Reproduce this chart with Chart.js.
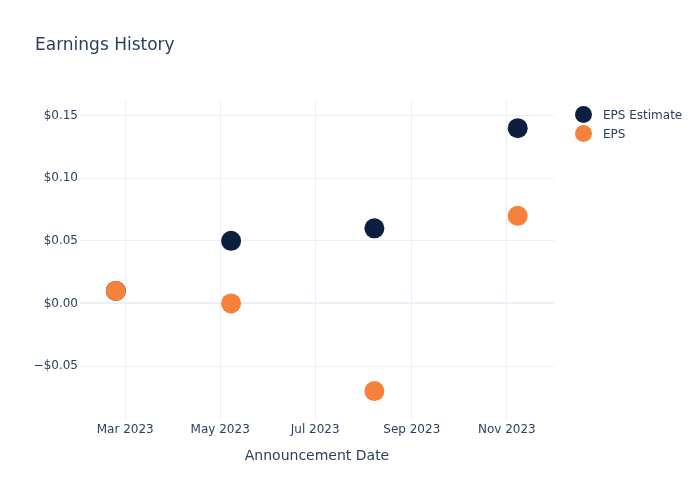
<!DOCTYPE html>
<html>
<head>
<meta charset="utf-8">
<script src="https://cdn.jsdelivr.net/npm/chart.js@4"></script>
<style>
  html,body{margin:0;padding:0;background:#fff;}
  .wrap{position:relative;width:700px;height:500px;font-family:"DejaVu Sans",sans-serif;color:#2a3f5f;}
  .title{position:absolute;left:35px;top:33px;font-size:17px;line-height:22px;white-space:nowrap;}
  .legend{position:absolute;left:575px;top:105px;font-size:12px;}
  .legend-item{display:flex;align-items:center;height:19px;}
  .legend-dot{width:17px;height:17px;border-radius:50%;margin-right:11px;flex:none;}
</style>
</head>
<body>
<div class="wrap">
  <canvas id="chart" width="700" height="500"></canvas>
  <div class="title">Earnings History</div>
  <div class="legend" id="legend"></div>
</div>
<script>
'use strict';
const dates=['2023-02-23','2023-05-08','2023-08-08','2023-11-08'];
const epsEstimate=[0.01,0.05,0.06,0.14];
const eps=[0.01,0.00,-0.07,0.07];
const seriesNames=['EPS Estimate','EPS'];
const seriesColors=['#0c1f3f','#f5813a'];
const xTickDates=['2023-03-01','2023-05-01','2023-07-01','2023-09-01','2023-11-01'];
const xTickLabels=['Mar 2023','May 2023','Jul 2023','Sep 2023','Nov 2023'];
const xRange=['2023-01-31','2023-12-01T07:00:00Z'];
const yTicks=[-0.05,0,0.05,0.10,0.15];
const yRange=[-0.0931,0.1625];

const ink='#2a3f5f';
const gridColor='#ebf0f8';
const toPoints=vals=>dates.map((d,i)=>({x:Date.parse(d),y:vals[i]}));
const money=v=>(v<0?'\u2212$':'$')+Math.abs(v).toFixed(2);

new Chart(document.getElementById('chart'),{
  type:'scatter',
  data:{datasets:[
    // EPS drawn on top of the estimate (lower order = drawn last)
    {label:seriesNames[0],data:toPoints(epsEstimate),backgroundColor:seriesColors[0],borderWidth:0,pointRadius:10,pointHoverRadius:10,order:2},
    {label:seriesNames[1],data:toPoints(eps),backgroundColor:seriesColors[1],borderWidth:0,pointRadius:10,pointHoverRadius:10,order:1}
  ]},
  options:{
    responsive:false,
    animation:false,
    layout:{padding:{left:0,right:146,top:100,bottom:0}},
    plugins:{legend:{display:false},title:{display:false},tooltip:{enabled:false}},
    scales:{
      x:{
        type:'linear',
        min:Date.parse(xRange[0]),max:Date.parse(xRange[1]),
        afterBuildTicks:s=>{s.ticks=xTickDates.map(d=>({value:Date.parse(d)}));},
        afterFit:s=>{s.height=80;},
        grid:{color:gridColor,drawTicks:false},
        border:{display:false},
        ticks:{callback:(v,i)=>xTickLabels[i],autoSkip:false,maxRotation:0,padding:3,color:ink,font:{family:'DejaVu Sans',size:12}},
        title:{display:true,text:'Announcement Date',color:ink,font:{family:'DejaVu Sans',size:14},padding:{top:0,bottom:35.6}}
      },
      y:{
        min:yRange[0],max:yRange[1],
        afterBuildTicks:s=>{s.ticks=yTicks.map(v=>({value:v}));},
        afterFit:s=>{s.width=80;},
        grid:{color:gridColor,drawTicks:false,lineWidth:c=>c.tick&&c.tick.value===0?2:1},
        border:{display:false},
        ticks:{callback:v=>money(v),padding:2,color:ink,font:{family:'DejaVu Sans',size:12}}
      }
    }
  }
});

document.getElementById('legend').innerHTML=seriesNames.map((n,i)=>
  `<div class="legend-item"><span class="legend-dot" style="background:${seriesColors[i]}"></span><span>${n}</span></div>`).join('');
</script>
</body>
</html>
